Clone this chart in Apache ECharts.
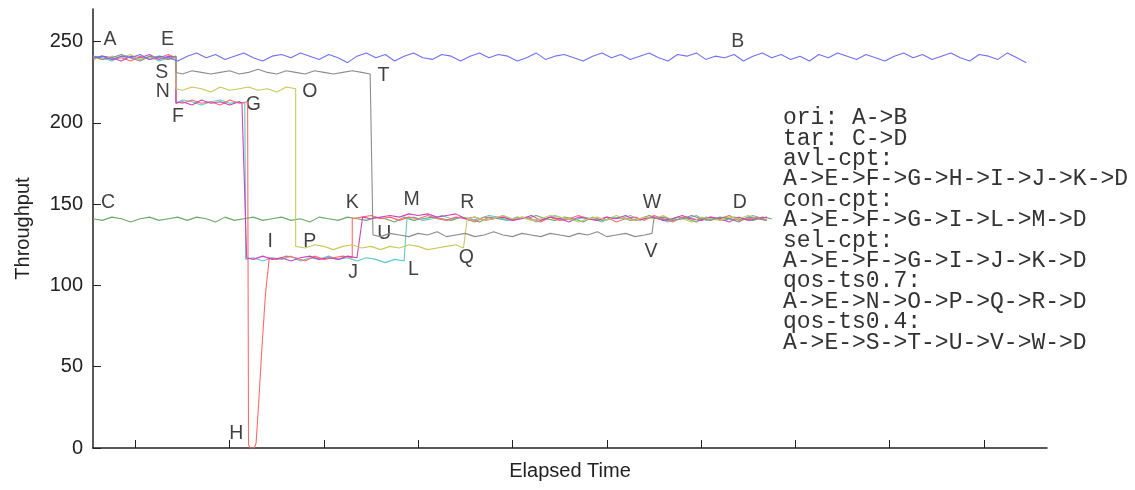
<!DOCTYPE html>
<html>
<head>
<meta charset="utf-8">
<script src="https://cdn.jsdelivr.net/npm/echarts@6/dist/echarts.min.js"></script>
<style>
  html, body { margin: 0; padding: 0; background: #fff; }
  #chart { width: 1135px; height: 490px; }
</style>
</head>
<body>
<div id="chart"></div>
<script>
// sample times along the x axis (arbitrary time units)
var tGrid = [55,65,75,85,95,105,115,125,135,145, 155,165,175,185,195,205,215,225,235,245,
  255,265,275,285,295,305,315,325,335,345, 355,365,375,385,395,405,415,425,435,445,
  455,465,475,485,495,505,515,525,535,545, 555,565,575,585,595,605,615,625,635,645,
  655,665,675,685,695,705,715,725,735,745, 755,765,775,785,795,805,815,825,835,845,
  855,865,875,885,895,905,915,925,935,945, 955,965,975,985,995,1005,1015,1025,1035,1045];

// ori: A->B
var oriY = [240,241,239,241,240,242,239,241,240,238, 241,243,240,242,239,241,243,240,238,241,
  242,240,243,241,239,242,240,237,241,243, 240,242,238,241,243,240,239,242,241,238,
  241,243,240,242,241,238,240,243,239,241, 242,240,238,241,243,240,242,239,241,243,
  240,238,242,241,243,239,241,240,242,238, 241,243,240,242,239,241,238,242,240,243,
  241,239,242,240,238,241,243,240,242,239, 241,243,240,238,242,241,239,243,240,237];

// tar: C->D
var tarY = [141,140,142,141,139,141,142,140,141,142, 140,142,141,139,142,140,141,142,140,141,
  142,140,141,139,142,141,140,142,141,140, 142,141,139,142,140,141,142,141,140,142,
  141,139,142,141,140,142,141,143,141,140, 142,141,139,142,140,141,142,140,141,143,
  141,140,142,141,139,142,141,140,142,141, 140,142,141];

// avl-cpt: A->E->F->G->H->I->J->K->D
var avlX = [55,65,75,85,95,105,115,125,135,143,
  143,150,160,170,180,190,200,210,219,
  220,222,226,228,231,234,238,242,
  250,260,270,280,290,300,310,320,330,
  330,340,350,360,370,380,390,400,410,420,430,440,450,460,470,480,490,500,510,520,530,
  540,550,560,570,580,590,600,610,620,630,640,650,660,670,680,690,700,710,720,730,740,750,760,770];
var avlY = [240,241,239,240,238,241,239,240,242,240,
  213,212,214,212,213,211,214,212,213,
  2,0,0,3,30,60,95,117,
  116,118,117,115,118,116,117,118,117,
  141,142,143,141,142,140,142,141,143,141, 140,142,141,139,142,141,143,140,142,141,
  139,142,140,141,143,141,140,142,139,141, 142,140,143,141,139,142,141,140,142,141,
  143,140,141,142,140];

// con-cpt: A->E->F->G->I->L->M->D
var conX = [55,65,75,85,95,105,115,125,135,143,
  143,150,160,170,180,190,200,210,216,
  217,225,235,245,255,265,275,285,295,305,315,325,335,345,355,365,375,385,
  388,395,405,415,425,435,445,455,465,475,485,495,505,515,525,535,545,555,565,575,
  585,595,605,615,625,635,645,655,665,675,685,695,705,715,725,735,745,755,765];
var conY = [241,240,238,241,240,239,241,238,240,241,
  212,214,213,211,213,214,212,213,212,
  116,117,115,117,116,118,115,117,116,118,116,117,115,117,116,114,116,115,
  141,142,140,141,143,141,142,140,141,143, 142,140,141,142,139,141,143,141,140,142,
  141,139,142,141,143,140,142,141,139,142, 141,143,140,141,142,140,141,143,141];

// sel-cpt: A->E->F->G->I->J->K->D
var selX = [55,65,75,85,95,105,115,125,135,143,
  143,150,160,170,180,190,200,210,213,
  218,225,235,245,255,265,275,285,295,305,315,325,335,
  341,350,360,370,380,390,400,410,420,430,440,450,460,470,480,490,500,510,520,530,540,
  550,560,570,580,590,600,610,620,630,640,650,660,670,680,690,700,710,720,730,740,750,760,770];
var selY = [239,241,240,238,241,240,242,239,241,240,
  212,213,211,214,212,213,211,213,212,
  117,116,118,116,117,115,117,118,116,117,116,118,117,
  142, 141,142,143,142,144,143,144,142,143,144, 141,142,140,141,142,140,141,143,140,142,
  141,139,142,141,140,142,141,143,140,141, 142,140,141,143,141,140,142,141,139,142,
  140,141,142];

// qos-ts0.7: A->E->N->O->P->Q->R->D
var q7X = [55,65,75,85,95,105,115,125,135,143,
  143,150,160,170,180,190,200,210,220,230,240,250,260,270,
  270,280,290,300,310,320,330,340,350,360,370,380,390,400,410,420,430,440,448,
  452,460,470,480,490,500,510,520,530,540,550,560,570,580,590,600,610,620,630,640,650,
  660,670,680,690,700,710,720,730,740,750,760,770];
var q7Y = [240,239,241,240,242,239,240,241,239,240,
  221,220,222,221,219,222,220,221,222,220,221,219,222,221,
  124,123,125,124,122,124,125,123,124,122,124,123,125,124,122,123,124,125,123,
  141,142,140,141,143,141,142,140,141,143,142,141,139,141,142,140,143,141,140,142,
  141,143,140,141,139,142,141,140,142,141,143,141,140];

// qos-ts0.4: A->E->S->T->U->V->W->D
var q4X = [55,65,75,85,95,105,115,125,135,143,
  143,150,160,170,180,190,200,210,220,230,240,250,260,270,280,290,300,310,320,330,340,349,
  352,360,370,380,390,400,410,420,430,440,450,460,470,480,490,500,510,520,530,540,550,
  560,570,580,590,600,610,620,630,640,648,
  650,660,670,680,690,700,710,720,730,740,750,760,770];
var q4Y = [241,239,240,242,240,238,241,240,239,241,
  231,230,232,231,230,231,232,230,231,233,231,230,232,231,230,232,231,230,231,232,231,230,
  131,130,132,131,130,132,131,133,130,131,132,130,131,133,131,130,132,131,130,132,131,
  130,132,131,133,130,131,132,130,131,132,
  141,142,140,141,143,141,140,142,141,139,142,141,140];

// point letters
var labelNames = ['A','E','B','S','T','N','O','F','G','C','K','M','R','W','D','I','P','U','J','L','Q','V','H'];
var labelX = [73,134,739,128,363,129,285,145,225,71,330,393,452,648,741,243,285,364,331,395,451,647,207];
var labelY = [251,251,250,231,229,219,219,204,211,151,151,153,151,151,151,127,127,132,108,110,117,121,9];

var xTicks = [100,200,300,400,500,600,700,800,900,1000];
var yTicks = [0,50,100,150,200,250];

var legendLines = ['ori: A->B', 'tar: C->D', 'avl-cpt:', 'A->E->F->G->H->I->J->K->D',
  'con-cpt:', 'A->E->F->G->I->L->M->D', 'sel-cpt:', 'A->E->F->G->I->J->K->D',
  'qos-ts0.7:', 'A->E->N->O->P->Q->R->D', 'qos-ts0.4:', 'A->E->S->T->U->V->W->D'];

function pairs(xs, ys) {
  return xs.map(function (x, i) { return [x, ys[i]]; });
}

function line(name, data, color) {
  return {
    name: name,
    type: 'line',
    data: data,
    symbol: 'none',
    silent: true,
    animation: false,
    lineStyle: { color: color, width: 1.1 }
  };
}

var chart = echarts.init(document.getElementById('chart'));

var option = {
  backgroundColor: '#fff',
  animation: false,
  grid: { left: 93, right: 88, top: 9, bottom: 42 },
  title: {
    text: legendLines.join('\n'),
    left: 778,
    top: 103,
    textStyle: {
      fontFamily: 'Liberation Mono',
      fontWeight: 'normal',
      fontSize: 23,
      lineHeight: 20.4,
      color: '#333'
    }
  },
  xAxis: {
    type: 'value',
    min: 55,
    max: 1067,
    name: 'Elapsed Time',
    nameLocation: 'middle',
    nameGap: 13,
    nameTextStyle: { fontFamily: 'Liberation Sans', fontSize: 20, color: '#222' },
    axisLine: { lineStyle: { color: '#222', width: 1.5 } },
    axisTick: { inside: true, length: 8, customValues: xTicks, lineStyle: { color: '#222' } },
    axisLabel: { show: false },
    splitLine: { show: false }
  },
  yAxis: {
    type: 'value',
    min: 0,
    max: 270,
    name: 'Throughput',
    nameLocation: 'middle',
    nameGap: 60,
    nameTextStyle: { fontFamily: 'Liberation Sans', fontSize: 20, color: '#222' },
    axisLine: { show: true, lineStyle: { color: '#222', width: 1.5 } },
    axisTick: { show: true, inside: true, length: 8, customValues: yTicks, lineStyle: { color: '#222' } },
    axisLabel: { customValues: yTicks, margin: 10, fontFamily: 'Liberation Sans', fontSize: 20, color: '#222' },
    splitLine: { show: false }
  },
  series: [
    line('tar', pairs(tGrid.slice(0, tarY.length), tarY), '#6aaa6a'),
    line('con-cpt', pairs(conX, conY), '#5cc8c8'),
    line('avl-cpt', pairs(avlX, avlY), '#ff6a6a'),
    line('sel-cpt', pairs(selX, selY), '#cc44bb'),
    line('qos-ts0.7', pairs(q7X, q7Y), '#c8c860'),
    line('qos-ts0.4', pairs(q4X, q4Y), '#8c8c8c'),
    line('ori', pairs(tGrid, oriY), '#7070f0'),
    {
      type: 'scatter',
      symbolSize: 0,
      silent: true,
      animation: false,
      data: labelNames.map(function (n, i) { return { name: n, value: [labelX[i], labelY[i]] }; }),
      label: {
        show: true,
        position: 'inside',
        formatter: '{b}',
        fontFamily: 'Liberation Sans',
        fontSize: 19.5,
        color: '#111'
      }
    }
  ]
};

chart.setOption(option);
</script>
</body>
</html>
